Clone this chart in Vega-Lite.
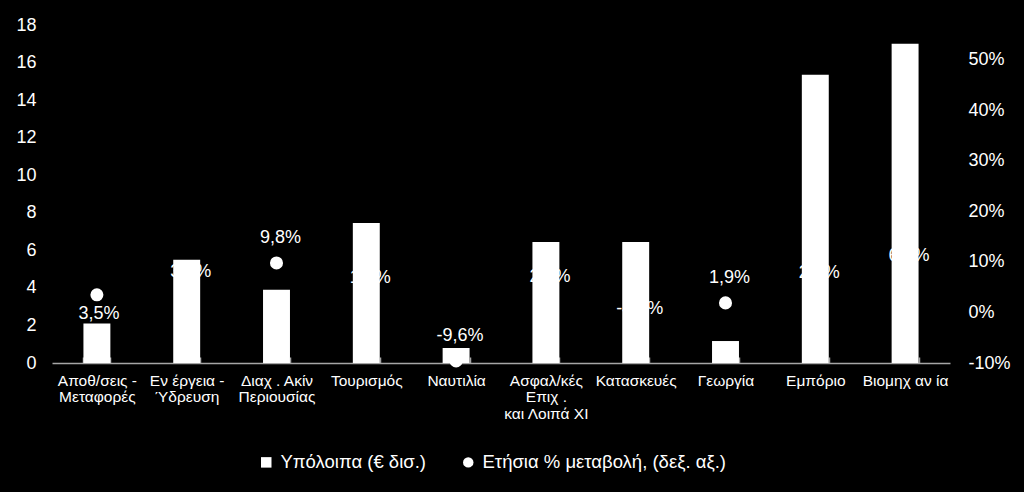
{
  "$schema": "https://vega.github.io/schema/vega-lite/v6.json",
  "width": 898,
  "height": 338,
  "autosize": "none",
  "padding": {"left": 52, "top": 25, "right": 74, "bottom": 129},
  "background": "black",
  "config": {
    "view": {"stroke": null},
    "font": "Liberation Sans",
    "locale": {"number": {"decimal": ",", "thousands": ".", "grouping": [3], "currency": ["", " €"], "minus": "-"}}
  },
  "data": {
    "values": [
      {"sector": "Αποθ/σεις -|Μεταφορές", "balance": 2.1, "pct": 0.035, "lab": "below"},
      {"sector": "Εν έργεια -|Ύδρευση", "balance": 5.5, "pct": 0.030, "lab": "above"},
      {"sector": "Διαχ . Ακίν|Περιουσίας", "balance": 3.9, "pct": 0.098, "lab": "above"},
      {"sector": "Τουρισμός", "balance": 7.45, "pct": 0.018, "lab": "above"},
      {"sector": "Ναυτιλία", "balance": 0.8, "pct": -0.096, "lab": "above"},
      {"sector": "Ασφαλ/κές|Επιχ .|και Λοιπά ΧΙ", "balance": 6.45, "pct": 0.021, "lab": "above"},
      {"sector": "Κατασκευές", "balance": 6.45, "pct": -0.042, "lab": "above"},
      {"sector": "Γεωργία", "balance": 1.17, "pct": 0.019, "lab": "above"},
      {"sector": "Εμπόριο", "balance": 15.35, "pct": 0.029, "lab": "above"},
      {"sector": "Βιομηχ αν ία", "balance": 17.0, "pct": 0.063, "lab": "above"}
    ]
  },
  "encoding": {
    "x": {
      "field": "sector",
      "type": "nominal",
      "sort": null,
      "scale": {"paddingInner": 0.7, "paddingOuter": 0.35},
      "axis": {
        "title": null,
        "labelAngle": 0,
        "labelColor": "white",
        "labelFontSize": 15.5,
        "labelLineHeight": 16.5,
        "labelPadding": 16,
        "labelExpr": "split(datum.label, '|')",
        "domainColor": "#a6a6a6",
        "domainWidth": 1.5,
        "tickColor": "#a6a6a6",
        "tickBand": "extent",
        "tickSize": -6,
        "tickWidth": 1.5
      }
    }
  },
  "layer": [
    {
      "mark": {"type": "bar", "fill": "white"},
      "encoding": {
        "y": {
          "field": "balance",
          "type": "quantitative",
          "scale": {"domain": [0, 18], "nice": false},
          "axis": {
            "orient": "left",
            "title": null,
            "values": [0, 2, 4, 6, 8, 10, 12, 14, 16, 18],
            "grid": false,
            "domain": false,
            "ticks": false,
            "labelColor": "white",
            "labelFontSize": 18,
            "labelPadding": 16
          }
        },
        "color": {
          "datum": "Υπόλοιπα (€ δισ.)",
          "scale": {"domain": ["Υπόλοιπα (€ δισ.)", "Ετήσια % μεταβολή, (δεξ. αξ.)"], "range": ["white", "white"]},
          "legend": {
            "title": null,
            "orient": "none",
            "legendX": 205,
            "legendY": 428,
            "direction": "horizontal",
            "labelColor": "white",
            "labelFontSize": 18.5,
            "labelLimit": 0,
            "symbolSize": 110,
            "symbolStrokeWidth": 0,
            "columnPadding": 33,
            "labelOffset": 5,
            "encode": {
              "symbols": {
                "update": {
                  "shape": {"signal": "datum.value === 'Υπόλοιπα (€ δισ.)' ? 'square' : 'circle'"},
                  "fill": {"value": "white"},
                  "fillOpacity": {"value": 1}
                }
              }
            }
          }
        }
      }
    },
    {
      "encoding": {
        "y": {
          "field": "pct",
          "type": "quantitative",
          "scale": {"domain": [-0.1, 0.569], "nice": false, "zero": false},
          "axis": {
            "orient": "right",
            "title": null,
            "values": [-0.1, 0, 0.1, 0.2, 0.3, 0.4, 0.5],
            "format": ".0%",
            "grid": false,
            "domain": false,
            "ticks": false,
            "labelColor": "white",
            "labelFontSize": 18,
            "labelPadding": 18
          }
        }
      },
      "layer": [
        {
          "mark": {"type": "point", "filled": true, "size": 170, "opacity": 1},
          "encoding": {
            "color": {"datum": "Ετήσια % μεταβολή, (δεξ. αξ.)"}
          }
        },
        {
          "transform": [{"filter": "datum.lab === 'above'"}],
          "mark": {"type": "text", "color": "white", "fontSize": 18, "dy": -25, "dx": 4},
          "encoding": {"text": {"field": "pct", "type": "quantitative", "format": ".1%"}}
        },
        {
          "transform": [{"filter": "datum.lab === 'below'"}],
          "mark": {"type": "text", "color": "white", "fontSize": 18, "dy": 19, "dx": 2},
          "encoding": {"text": {"field": "pct", "type": "quantitative", "format": ".1%"}}
        }
      ]
    }
  ],
  "resolve": {"scale": {"y": "independent"}}
}
